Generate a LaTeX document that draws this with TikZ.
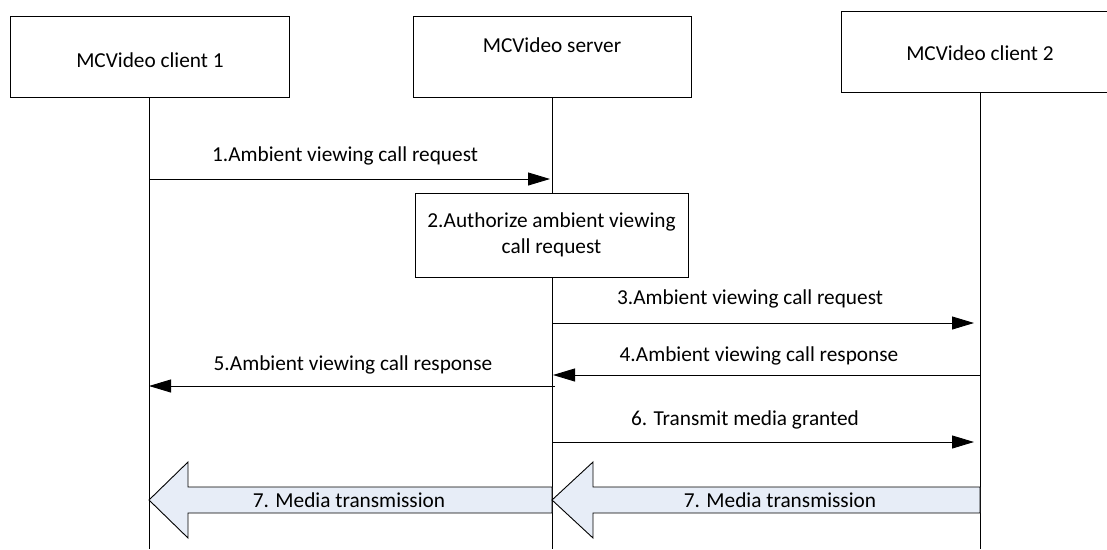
\documentclass[tikz,border=0pt]{standalone}
\usepackage{fontspec}
\setmainfont{Carlito}
\usetikzlibrary{arrows.meta}
\definecolor{blockfill}{RGB}{231,237,247}
\tikzset{
  actor/.style={draw, line width=1pt, inner sep=0pt},
  lifeline/.style={line width=0.9pt},
  msg/.style={line width=0.9pt, -{Triangle[length=22pt,width=13pt]}},
  lbl/.style={font=\fontsize{21.3}{24}\selectfont, inner sep=0pt},
  blockarrow/.style={draw, line width=0.9pt, fill=blockfill, line join=miter},
}
\begin{document}
\begin{tikzpicture}[x=1pt,y=-1pt]
\useasboundingbox (0,0) rectangle (1107,549);
% actor boxes
\draw[actor] (10,16) rectangle (289,97);
\node[lbl] (c1) at (150,60) {MCVideo client 1};
\draw[actor] (413,16) rectangle (691,97);
\node[lbl] (srv) at (552,45) {MCVideo server};
\draw[actor] (841,11) rectangle (1120,92);
\node[lbl] (c2) at (980,53) {MCVideo client 2};
% lifeline anchors
\coordinate (c1top) at (149,97);
\coordinate (c1bot) at (149,549);
\coordinate (srvtop) at (552,97);
\coordinate (srvbot) at (552,549);
\coordinate (c2top) at (980,92);
\coordinate (c2bot) at (980,549);
\draw[lifeline] (c1top) -- (c1bot);
\draw[lifeline] (srvtop) -- (srvbot);
\draw[lifeline] (c2top) -- (c2bot);
% step 2 box
\node[draw, line width=1pt, fill=white, minimum width=273pt, minimum height=84pt, inner sep=0pt,
      align=center, font=\fontsize{21.3}{26}\selectfont] (auth) at (551.5,235) {2.Authorize ambient viewing\\call request};
% message anchors
\coordinate (m1s) at (149,179);  \coordinate (m1e) at (550,179);
\coordinate (m3s) at (552,323);  \coordinate (m3e) at (974,323);
\coordinate (m4s) at (980,375);  \coordinate (m4e) at (553,375);
\coordinate (m5s) at (555,386);  \coordinate (m5e) at (149,386);
\coordinate (m6s) at (552,442);  \coordinate (m6e) at (974,442);
\draw[msg] (m1s) -- (m1e);
\draw[msg] (m3s) -- (m3e);
\draw[msg] (m4s) -- (m4e);
\draw[msg] (m5s) -- (m5e);
\draw[msg] (m6s) -- (m6e);
\node[lbl] (l1) at (345,156) {1.Ambient viewing call request};
\node[lbl] (l3) at (750,299) {3.Ambient viewing call request};
\node[lbl] (l4) at (759,356) {4.Ambient viewing call response};
\node[lbl] (l5) at (353,365) {5.Ambient viewing call response};
\node[lbl] (l6) at (745,420) {6. Transmit media granted};
% block arrows
\draw[blockarrow] (149,500) -- (188,462) -- (188,487) -- (552,487) -- (552,513) -- (188,513) -- (188,538) -- cycle;
\draw[blockarrow] (552,500) -- (593,462) -- (593,487) -- (980,487) -- (980,513) -- (593,513) -- (593,538) -- cycle;
\node[lbl] (l7a) at (349,500) {7. Media transmission};
\node[lbl] (l7b) at (780,500) {7. Media transmission};
\end{tikzpicture}
\end{document}
